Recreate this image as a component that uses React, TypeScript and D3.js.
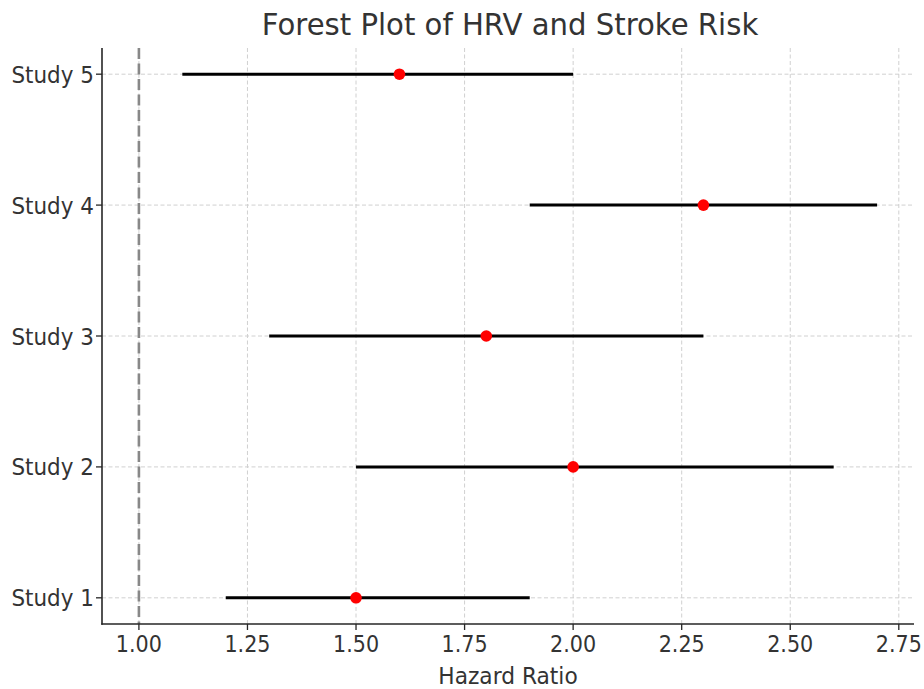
import React from "react";
import * as d3 from "d3";

const studies = ["Study 1", "Study 2", "Study 3", "Study 4", "Study 5"];
const hazardRatios = [1.5, 2.0, 1.8, 2.3, 1.6];
const lowerCI = [1.2, 1.5, 1.3, 1.9, 1.1];
const upperCI = [1.9, 2.6, 2.3, 2.7, 2.0];
const xTicks = [1.0, 1.25, 1.5, 1.75, 2.0, 2.25, 2.5, 2.75];
const title = "Forest Plot of HRV and Stroke Risk";
const xLabel = "Hazard Ratio";

const W = 924, H = 689;
const left = 102, right = 914, top = 48, bottom = 624;
const FONT = "DejaVu Sans, sans-serif";
const TXT = "#333333";

function T({ x, y, anchor, size, sx, children }: { x: number; y: number; anchor: string; size: number; sx: number; children: React.ReactNode }) {
  return (
    <text transform={`translate(${x},${y}) scale(${sx},1)`} textAnchor={anchor} fontFamily={FONT} fontSize={size} fill={TXT}>
      {children}
    </text>
  );
}

export default function App() {
  const x = d3.scaleLinear().domain([0.915, 2.785]).range([left, right]);
  const y = d3.scaleLinear().domain([-0.2, 4.2]).range([bottom, top]);
  return (
    <svg width={W} height={H} style={{ position: "fixed", left: 0, top: 0, background: "#fff" }}>
      <rect width={W} height={H} fill="#fff" />
      {xTicks.map((t) => (
        <line key={"gx" + t} x1={x(t)} x2={x(t)} y1={top} y2={bottom} stroke="#d0d0d0" strokeWidth={1} strokeDasharray="4,2.5" />
      ))}
      {studies.map((s, i) => (
        <line key={"gy" + s} x1={left} x2={right} y1={y(i)} y2={y(i)} stroke="#d0d0d0" strokeWidth={1} strokeDasharray="4,2.5" />
      ))}
      <line x1={x(1)} x2={x(1)} y1={top} y2={bottom} stroke="#888888" strokeWidth={2.6} strokeDasharray="11,4.5" />
      {studies.map((s, i) => (
        <line key={"ci" + s} x1={x(lowerCI[i])} x2={x(upperCI[i])} y1={y(i)} y2={y(i)} stroke="#000" strokeWidth={3} />
      ))}
      {studies.map((s, i) => (
        <circle key={"pt" + s} cx={x(hazardRatios[i])} cy={y(i)} r={5.8} fill="#ff0000" />
      ))}
      <line x1={left} x2={left} y1={top} y2={bottom + 0.75} stroke="#262626" strokeWidth={1.6} />
      <line x1={left - 0.75} x2={right} y1={bottom} y2={bottom} stroke="#262626" strokeWidth={1.6} />
      {xTicks.map((t) => (
        <g key={"xt" + t}>
          <line x1={x(t)} x2={x(t)} y1={bottom} y2={bottom + 6} stroke="#262626" strokeWidth={1.3} />
          <T x={x(t)} y={652} anchor="middle" size={23} sx={0.9}>{t.toFixed(2)}</T>
        </g>
      ))}
      {studies.map((s, i) => (
        <g key={"yt" + s}>
          <line x1={left - 6} x2={left} y1={y(i)} y2={y(i)} stroke="#262626" strokeWidth={1.3} />
          <T x={94} y={y(i) + 8.5} anchor="end" size={23} sx={0.935}>{s}</T>
        </g>
      ))}
      <T x={508} y={684} anchor="middle" size={23} sx={0.945}>{xLabel}</T>
      <T x={510} y={35} anchor="middle" size={31} sx={0.94}>{title}</T>
    </svg>
  );
}
